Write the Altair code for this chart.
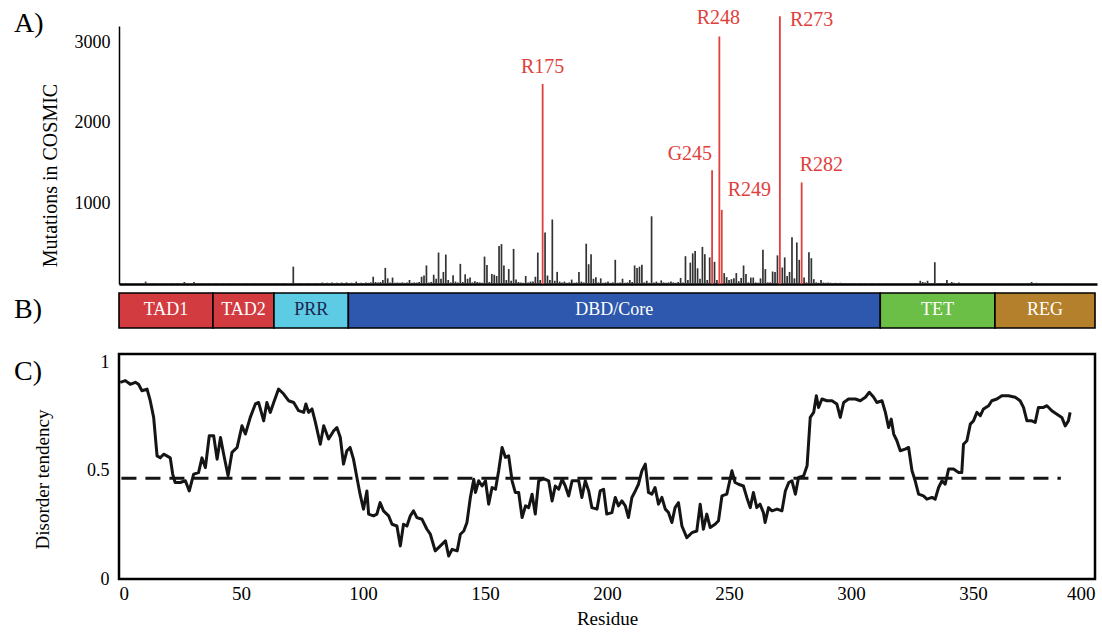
import altair as alt
import pandas as pd

FONT = "Liberation Serif, Times New Roman, serif"

# ---------------- Panel A: mutations per residue (COSMIC) ----------------
mut_residue = [3, 7, 11, 14, 18, 22, 24, 27, 31, 34, 37, 40, 43, 46, 49, 53, 56, 59, 62, 65, 68, 72, 75, 78, 81, 84, 86, 88, 90, 92, 94, 96,
               98, 99, 100, 101, 102, 103, 104, 105, 106, 107, 108, 109, 110, 111, 112, 113, 114, 115, 116, 117, 118, 119, 120,
               121, 122, 123, 124, 125, 126, 127, 128, 129, 130, 131, 132, 133, 134, 135, 136, 137, 138, 139, 140, 141, 142, 143,
               144, 145, 146, 147, 148, 149, 150, 151, 152, 153, 154, 155, 156, 157, 158, 159, 160, 161, 162, 163, 164, 165,
               166, 167, 168, 169, 170, 171, 172, 173, 174, 176, 177, 178, 179, 180, 181, 182, 183, 184, 185, 186, 187, 188, 189,
               190, 191, 192, 193, 194, 195, 196, 197, 198, 199, 200, 201, 202, 203, 204, 205, 206, 207, 208, 209, 210, 211, 212,
               213, 214, 215, 216, 217, 218, 219, 220, 221, 222, 223, 224, 225, 226, 227, 228, 229, 230, 231, 232, 233, 234, 235,
               236, 237, 238, 239, 240, 241, 242, 243, 244, 246, 247, 250, 251, 252, 253, 254, 255, 256, 257, 258, 259, 260, 261,
               262, 263, 264, 265, 266, 267, 268, 269, 270, 271, 272, 274, 275, 276, 277, 278, 279, 280, 281, 283, 284, 285, 286,
               287, 288, 289, 290, 291, 292, 293, 294, 295, 296, 297, 298, 299, 300, 302, 304, 306, 308, 311, 314, 317, 320, 323,
               326, 329, 331, 332, 333, 334, 335, 337, 339, 342, 344, 345, 347, 350, 353, 356, 360, 364, 368, 372, 375, 377, 379,
               383, 387, 391]
mut_count = [8, 6, 30, 8, 6, 10, 8, 25, 25, 10, 8, 12, 8, 10, 8, 10, 12, 8, 10, 8, 10, 215, 12, 10, 12, 18, 15, 20, 15, 18, 20, 15,
             30, 12, 15, 12, 18, 15, 20, 90, 25, 20, 25, 50, 200, 70, 20, 80, 15, 18, 15, 20, 15, 20, 50,
             15, 20, 18, 25, 90, 105, 230, 20, 25, 115, 65, 390, 65, 150, 365, 50, 20, 110, 30, 20, 250, 25, 120,
             65, 80, 20, 35, 25, 20, 15, 340, 235, 25, 125, 115, 100, 470, 495, 230, 50, 185, 40, 435, 55, 25,
             20, 15, 100, 20, 30, 30, 90, 390, 50, 640, 105, 50, 800, 40, 150, 30, 20, 30, 15, 20, 55, 15, 20,
             150, 30, 20, 500, 245, 370, 65, 85, 20, 70, 15, 20, 30, 15, 20, 300, 15, 20, 65, 15, 20, 50, 25,
             230, 200, 215, 240, 20, 40, 15, 840, 20, 30, 15, 45, 20, 15, 20, 30, 20, 15, 25, 75, 20, 345, 50,
             265, 380, 410, 195, 65, 460, 370, 50, 330, 275, 50, 135, 85, 50, 60, 70, 135, 35, 75, 230, 125, 20, 80,
             80, 20, 15, 70, 425, 185, 20, 20, 155, 150, 355, 205, 330, 100, 150, 580, 70, 515, 300, 80, 20, 395, 320,
             60, 20, 15, 50, 18, 15, 18, 15, 12, 15, 12, 15, 12, 10, 12, 10, 12, 8, 8, 6, 8, 6, 8,
             6, 8, 40, 25, 20, 40, 12, 270, 10, 50, 25, 15, 20, 8, 6, 8, 6, 6, 8, 6, 8, 25, 15,
             6, 6, 5]

hot_label = ["R175", "G245", "R248", "R249", "R273", "R282"]
hot_residue = [175, 245, 248, 249, 273, 282]
hot_count = [2480, 1410, 3070, 920, 3320, 1260]

# ---------------- Panel B: domains ----------------
domain_name = ["TAD1", "TAD2", "PRR", "DBD/Core", "TET", "REG"]
domain_start = [0, 38.5, 63.5, 94, 312, 359]
domain_end = [38.5, 63.5, 94, 312, 359, 400]

# ---------------- Panel C: disorder tendency ----------------
dis_residue = [0.5, 2.6, 4.6, 6.7, 8, 9.4, 11.5, 12.8, 14.2, 15.6, 16.9, 18.3, 19.6, 21, 22, 23, 25.1, 27.2, 28.8, 30.6,
               32.6, 34, 35.4, 37, 38.8, 40.2, 41.6, 42.9, 44.7, 46.3, 48.4, 50.4, 51.8, 53.8, 55.9, 57.2, 59.3, 60.6, 62,
               63.4, 65.4, 67.5, 69.5, 71.6, 73.6, 75.7, 76.6, 77.7, 79.1, 80.5, 82.5, 83.9, 85.9, 88, 89.3, 90.7, 92,
               93.4, 94.7, 96.1, 97.5, 98.8, 100.2, 101.6, 102.3, 104.3, 105.7, 107, 108.4, 110.5, 111.9, 113.9, 115.3,
               116.6, 118, 119.4, 120.7, 122.1, 124.2, 126.2, 127.6,
               129.6, 131.7, 133.8, 135.1, 136.5, 138.6, 139.9, 141.3, 142.6, 144, 145.4, 146.1, 147.4, 148.8, 150.2,
               151.5, 152.9, 154.3, 155.6, 157, 158.4, 159.7, 161.1, 162.4, 163.8, 165.2, 166.6, 167.9, 169.3, 170.6,
               172, 173.4, 174.7, 176.1, 177.5, 178.8, 180.2, 181.6, 182.9, 184.3, 185.7, 187, 188.4, 189.7, 191.1,
               192.5, 193.8, 195.9, 197.2, 198.6, 199.9, 202, 203.4, 204.7, 206.1, 207.5, 208.8, 210.2, 211.6, 212.9,
               214.3, 215.7, 217, 218.4, 219.7, 221.1, 222.5, 223.9, 225.2, 226.6, 227.9, 229.3, 230.7, 232.7, 234.8,
               236.8, 238.2, 239.5, 240.9, 242.3, 244.3, 245.7, 247.1, 249.1, 251.2, 252.5, 253.9, 255.9, 257.3, 258.7,
               260, 261.4, 262.7, 264.1, 264.8, 266.2,
               267.6, 269.7, 271.7, 273.1, 274.5, 275.8, 277.2, 278.5, 280.6, 282, 283.3, 284.7, 285.8, 286.7, 288.1,
               290.1, 292.2, 294.2, 295.6, 297, 299, 301.8, 303.8, 305.9, 307.5, 309.3, 310.6, 312.7, 314.1, 315.4,
               316.5, 317.5, 318.8, 320.2, 322.2, 323.6, 325, 326.3, 327.7, 329.7, 331.1, 333.2, 334.5, 335.9, 337.3,
               338.6, 340, 342, 344.1, 345.4, 346.1, 347.5, 348.9, 350.2, 351.6, 353, 354.3, 356.4, 357.7, 359.8, 361.8,
               364.5, 367.3, 369.3, 370.7, 372.1, 374.1, 375.5, 376.8, 378.9, 380.3, 382.3, 384.4, 386.4, 387.8, 389.1,
               389.8]
dis_value = [0.909, 0.917, 0.90, 0.909, 0.90, 0.87, 0.878, 0.824, 0.747, 0.569, 0.56, 0.577, 0.569, 0.56, 0.485, 0.446,
             0.446, 0.454, 0.407, 0.485, 0.492, 0.56, 0.515, 0.662, 0.662, 0.554, 0.654, 0.577, 0.477, 0.585, 0.608, 0.708,
             0.67, 0.747, 0.809, 0.816, 0.731, 0.816, 0.77, 0.816, 0.878, 0.855, 0.824, 0.816, 0.778, 0.77, 0.809, 0.77,
             0.786, 0.724, 0.623, 0.708, 0.647, 0.685, 0.70, 0.654, 0.531, 0.593, 0.608, 0.554, 0.469, 0.392, 0.323, 0.407,
             0.30, 0.292, 0.30, 0.353, 0.315, 0.292, 0.253, 0.245, 0.153, 0.253, 0.245, 0.292, 0.315, 0.284, 0.276, 0.23,
             0.207,
             0.13, 0.153, 0.176, 0.106, 0.137, 0.13, 0.207, 0.222, 0.261, 0.377, 0.461, 0.40, 0.454, 0.43, 0.454,
             0.346, 0.423, 0.415, 0.50, 0.608, 0.562, 0.569, 0.454, 0.40, 0.40, 0.284, 0.338, 0.33, 0.392, 0.30,
             0.454, 0.461, 0.461, 0.454, 0.361, 0.43, 0.415, 0.461, 0.43, 0.384, 0.454, 0.454, 0.454, 0.377, 0.454,
             0.407, 0.33, 0.323, 0.407, 0.415, 0.30, 0.307, 0.377, 0.338, 0.361, 0.338, 0.284, 0.377, 0.407, 0.438,
             0.50, 0.531, 0.40, 0.392, 0.423, 0.346, 0.377, 0.323, 0.307, 0.261, 0.33, 0.353, 0.245, 0.191, 0.214,
             0.222, 0.346, 0.23, 0.30, 0.238, 0.253, 0.269, 0.384, 0.392, 0.50, 0.446, 0.438, 0.43, 0.377, 0.33,
             0.40, 0.33, 0.346, 0.307, 0.261, 0.33,
             0.315, 0.323, 0.315, 0.407, 0.446, 0.454, 0.392, 0.469, 0.477, 0.523, 0.747, 0.77, 0.847, 0.793, 0.832,
             0.824, 0.824, 0.809, 0.747, 0.816, 0.832, 0.832, 0.824, 0.84, 0.863, 0.84, 0.816, 0.824, 0.77, 0.70,
             0.739, 0.67, 0.639, 0.593, 0.60, 0.608, 0.50, 0.454, 0.392, 0.384, 0.369, 0.377, 0.369, 0.423, 0.454,
             0.438, 0.508, 0.508, 0.492, 0.492, 0.623, 0.639, 0.716, 0.731, 0.77, 0.755, 0.786, 0.801, 0.824, 0.832, 0.847,
             0.847, 0.84, 0.824, 0.793, 0.731, 0.731, 0.724, 0.793, 0.793, 0.801, 0.778, 0.762, 0.747, 0.708, 0.731,
             0.77]
threshold = 0.466
threshold_from = 1
threshold_to = 386

# ---------------- build tables ----------------
mut_df = pd.DataFrame({"residue": mut_residue, "count": mut_count})
hot_df = pd.DataFrame({"label": hot_label, "residue": hot_residue, "count": hot_count})
dom_df = pd.DataFrame({"name": domain_name, "start": domain_start, "end": domain_end})
dis_df = pd.DataFrame({"residue": dis_residue, "value": dis_value})

RED = "#e0403c"
DOMAIN_COLORS = ["#d23b3f", "#d23b3f", "#5ccbe3", "#2d58ad", "#6bbf47", "#b5802c"]
NOBORDER = alt.ViewBackground(stroke="transparent", strokeWidth=0)

# Panel A
xA = alt.X("residue:Q", scale=alt.Scale(domain=[0, 404], nice=False, zero=False),
           axis=alt.Axis(labels=False, ticks=False, grid=False, title=None,
                         domainColor="black", domainWidth=2.5))
yA = alt.Y("count:Q", scale=alt.Scale(domain=[0, 3200], nice=False),
           axis=alt.Axis(values=[1000, 2000, 3000], format="d", ticks=False, grid=False,
                         labelFontSize=18, labelFont=FONT, labelPadding=9, labelColor="black",
                         domainColor="black", domainWidth=1.5,
                         title="Mutations  in COSMIC", titleFont=FONT, titleFontSize=20,
                         titleFontWeight="normal", titlePadding=14, titleY=149, titleColor="black"))

bars = alt.Chart(mut_df).mark_rule(color="#333333", strokeWidth=1.7).encode(x=xA, y=yA, y2=alt.datum(0))
hot = alt.Chart(hot_df).mark_rule(color=RED, strokeWidth=1.8).encode(x=xA, y=yA, y2=alt.datum(0))

label_style = {
    "R175": dict(align="center", baseline="bottom", dx=0, dy=-7),
    "G245": dict(align="right", baseline="bottom", dx=0, dy=-6),
    "R248": dict(align="center", baseline="bottom", dx=-1, dy=-8),
    "R249": dict(align="left", baseline="bottom", dx=6, dy=-10),
    "R273": dict(align="left", baseline="middle", dx=10, dy=4),
    "R282": dict(align="left", baseline="bottom", dx=-2, dy=-7),
}
hot_texts = []
for lab in hot_label:
    st = label_style[lab]
    hot_texts.append(
        alt.Chart(hot_df).transform_filter(alt.datum.label == lab)
        .mark_text(font=FONT, fontSize=20, color=RED, **st)
        .encode(x=xA, y=yA, text="label:N")
    )

tagA = alt.Chart(pd.DataFrame({"t": ["A)"]})).mark_text(
    align="left", baseline="middle", fontSize=28, font=FONT, color="black"
).encode(x=alt.value(-105), y=alt.value(-2), text="t:N")

panelA = alt.layer(bars, hot, *hot_texts, tagA).properties(width=978, height=258, view=NOBORDER)

# Panel B (bar occupies top 35 px of a 52 px tall panel)
xB = alt.X("start:Q", scale=alt.Scale(domain=[0, 400], nice=False, zero=False), axis=None)
yB_scale = alt.Scale(domain=[-0.486, 1], nice=False, zero=False)
rects = alt.Chart(dom_df).mark_rect(stroke="black", strokeWidth=1.6).encode(
    x=xB, x2="end:Q",
    y=alt.Y("top:Q", scale=yB_scale, axis=None), y2="bot:Q",
    color=alt.Color("name:N", scale=alt.Scale(domain=domain_name, range=DOMAIN_COLORS), legend=None),
).transform_calculate(top="1", bot="0")
dtext = alt.Chart(dom_df).transform_calculate(mid="(datum.start + datum.end) / 2", yy="0.5").mark_text(
    font=FONT, fontSize=18, baseline="middle", align="center"
).encode(
    x=alt.X("mid:Q", scale=alt.Scale(domain=[0, 400], nice=False, zero=False), axis=None),
    y=alt.Y("yy:Q", scale=yB_scale, axis=None),
    text="name:N",
    color=alt.condition(alt.datum.name == "PRR", alt.value("#1c2550"), alt.value("white")),
)
tagB = alt.Chart(pd.DataFrame({"t": ["B)"]})).mark_text(
    align="left", baseline="middle", fontSize=28, font=FONT, color="black"
).encode(x=alt.value(-105), y=alt.value(17), text="t:N")
panelB = alt.layer(rects, dtext, tagB).properties(width=976, height=52, view=NOBORDER)

# Panel C
xC = alt.X("residue:Q", scale=alt.Scale(domain=[0, 400], nice=False, zero=False),
           axis=alt.Axis(values=list(range(0, 401, 50)), ticks=False, grid=False, domain=False,
                         labelFontSize=19, labelFont=FONT, labelPadding=5, labelColor="black",
                         title="Residue", titleFont=FONT, titleFontSize=19, titleFontWeight="normal",
                         titlePadding=6, titleColor="black"))
yC = alt.Y("value:Q", scale=alt.Scale(domain=[0, 1.04], nice=False),
           axis=alt.Axis(values=[0, 0.5, 1], format=".1~f", ticks=False, grid=False, domain=False,
                         labelFontSize=18, labelFont=FONT, labelPadding=10, labelColor="black",
                         title="Disorder tendency", titleFont=FONT, titleFontSize=19,
                         titleFontWeight="normal", titlePadding=34, titleY=125, titleColor="black"))
line = alt.Chart(dis_df).mark_line(color="#151515", strokeWidth=3, strokeJoin="round").encode(x=xC, y=yC)
dash = alt.Chart(pd.DataFrame({"y": [threshold], "a": [threshold_from], "b": [threshold_to]})).mark_rule(
    color="#151515", strokeWidth=3, strokeDash=[15, 9]
).encode(x=alt.X("a:Q", scale=alt.Scale(domain=[0, 400], nice=False, zero=False)), x2="b:Q",
         y=alt.Y("y:Q", scale=alt.Scale(domain=[0, 1.04], nice=False)))
tagC = alt.Chart(pd.DataFrame({"t": ["C)"]})).mark_text(
    align="left", baseline="middle", fontSize=28, font=FONT, color="black"
).encode(x=alt.value(-105), y=alt.value(18), text="t:N")
panelC = alt.layer(line, dash, tagC).properties(
    width=976, height=225, view=alt.ViewBackground(stroke="black", strokeWidth=2.5)
)

chart = alt.vconcat(panelA, panelB, panelC, spacing=9, bounds="flush").properties(
    padding={"left": 12, "top": 8, "right": 5, "bottom": 5}, background="white"
).configure_view(stroke="transparent", strokeWidth=0).configure(font=FONT)

chart.save("out.html", embed_options={"renderer": "svg", "actions": False})
